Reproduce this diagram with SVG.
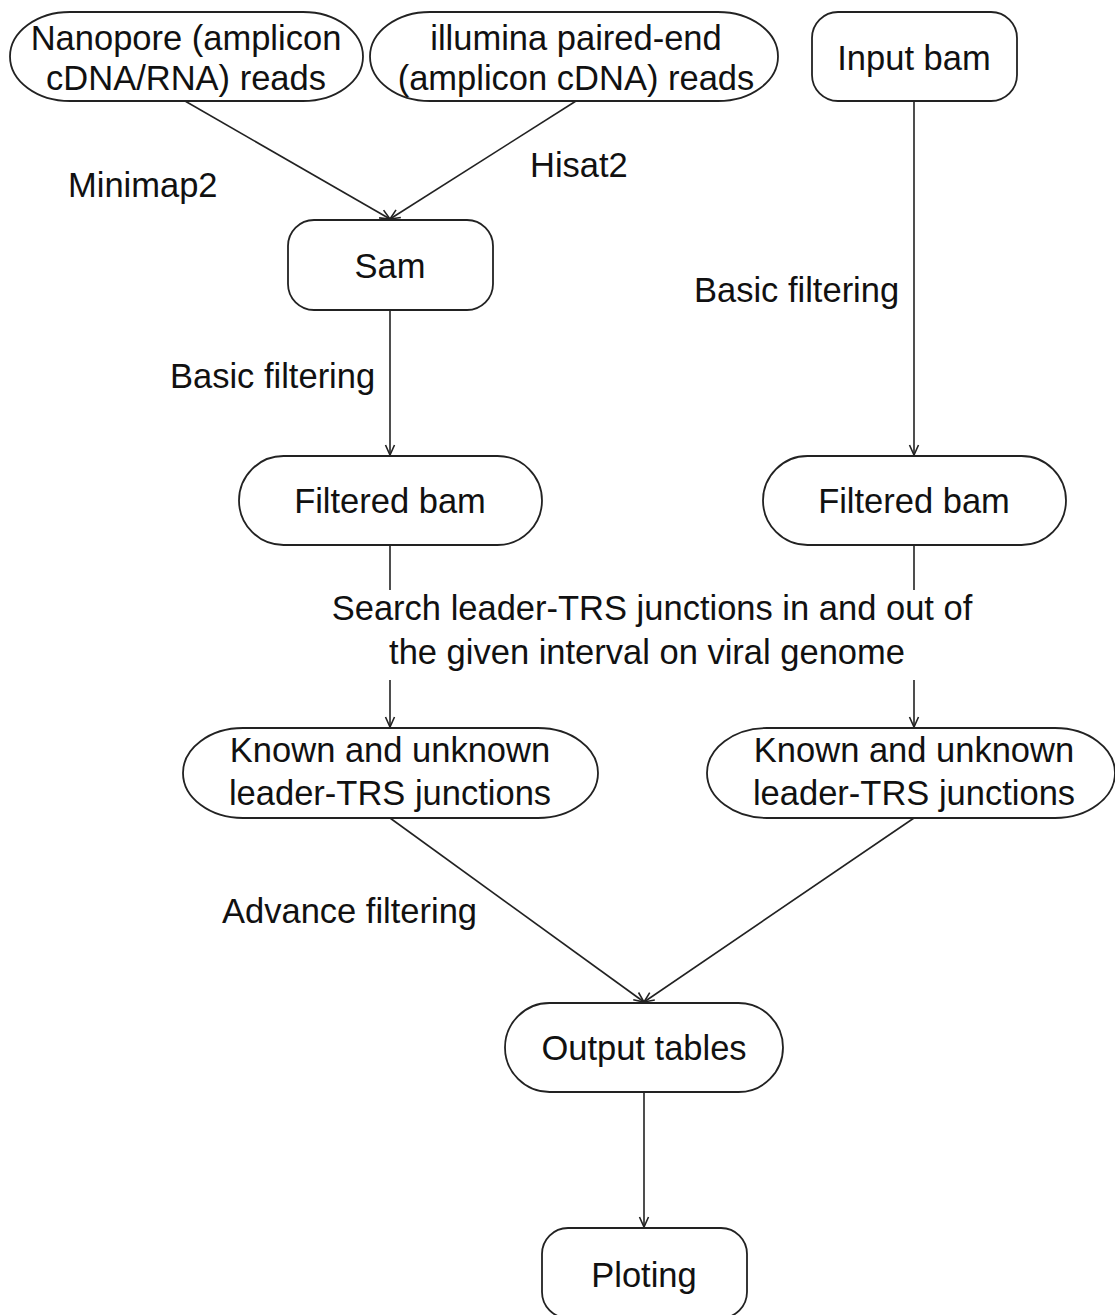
<svg xmlns="http://www.w3.org/2000/svg" width="1115" height="1315" viewBox="0 0 1115 1315">
<defs>
<marker id="arr" viewBox="0 0 12 12" refX="11" refY="6" markerWidth="12" markerHeight="12" markerUnits="userSpaceOnUse" orient="auto">
<path d="M1,1.5 L11,6 L1,10.5" fill="none" stroke="#222" stroke-width="1.6"/>
</marker>
</defs>
<style>
.n{fill:#fff;stroke:#222;stroke-width:1.8}
.t{font-family:"Liberation Sans",Arial,sans-serif;font-size:34.5px;fill:#111;text-anchor:middle}
.l{font-family:"Liberation Sans",Arial,sans-serif;font-size:34.5px;fill:#111}
.c{fill:none;stroke:#222;stroke-width:1.6}
</style>
<rect width="1115" height="1315" fill="#fff"/>
<g id="connectors">
<line class="c" x1="185" y1="101" x2="390" y2="219" marker-end="url(#arr)"/>
<line class="c" x1="576" y1="101" x2="390" y2="219" marker-end="url(#arr)"/>
<line class="c" x1="914" y1="101" x2="914" y2="455" marker-end="url(#arr)"/>
<line class="c" x1="390" y1="310" x2="390" y2="455" marker-end="url(#arr)"/>
<line class="c" x1="390" y1="545" x2="390" y2="590"/>
<line class="c" x1="390" y1="680" x2="390" y2="727" marker-end="url(#arr)"/>
<line class="c" x1="914" y1="545" x2="914" y2="590"/>
<line class="c" x1="914" y1="680" x2="914" y2="727" marker-end="url(#arr)"/>
<line class="c" x1="390" y1="818" x2="644" y2="1002" marker-end="url(#arr)"/>
<line class="c" x1="914" y1="818" x2="644" y2="1002" marker-end="url(#arr)"/>
<line class="c" x1="644" y1="1092" x2="644" y2="1227" marker-end="url(#arr)"/>
</g>
<g id="labels">
<text class="l" x="68" y="197">Minimap2</text>
<text class="l" x="530" y="177">Hisat2</text>
<text class="l" x="694" y="302">Basic filtering</text>
<text class="l" x="170" y="388">Basic filtering</text>
<text class="t" x="652" y="620">Search leader-TRS junctions in and out of</text>
<text class="t" x="647" y="664">the given interval on viral genome</text>
<text class="l" x="222" y="923">Advance filtering</text>
</g>
<g id="nanopore">
<rect class="n" x="10" y="12" width="353" height="89" rx="60" ry="44.5"/>
<text class="t" x="186" y="50">Nanopore (amplicon</text>
<text class="t" x="186" y="90">cDNA/RNA) reads</text>
</g>
<g id="illumina">
<rect class="n" x="370" y="12" width="408" height="89" rx="60" ry="44.5"/>
<text class="t" x="576" y="50">illumina paired-end</text>
<text class="t" x="576" y="90">(amplicon cDNA) reads</text>
</g>
<g id="inputbam">
<rect class="n" x="812" y="12" width="205" height="89" rx="26" ry="26"/>
<text class="t" x="914" y="70">Input bam</text>
</g>
<g id="sam">
<rect class="n" x="288" y="220" width="205" height="90" rx="26" ry="26"/>
<text class="t" x="390" y="278">Sam</text>
</g>
<g id="filtered-left">
<rect class="n" x="239" y="456" width="303" height="89" rx="44.5" ry="44.5"/>
<text class="t" x="390" y="513">Filtered bam</text>
</g>
<g id="filtered-right">
<rect class="n" x="763" y="456" width="303" height="89" rx="44.5" ry="44.5"/>
<text class="t" x="914" y="513">Filtered bam</text>
</g>
<g id="known-left">
<rect class="n" x="183" y="728" width="415" height="90" rx="60" ry="45"/>
<text class="t" x="390" y="762">Known and unknown</text>
<text class="t" x="390" y="805">leader-TRS junctions</text>
</g>
<g id="known-right">
<rect class="n" x="707" y="728" width="408" height="90" rx="60" ry="45"/>
<text class="t" x="914" y="762">Known and unknown</text>
<text class="t" x="914" y="805">leader-TRS junctions</text>
</g>
<g id="output">
<rect class="n" x="505" y="1003" width="278" height="89" rx="44.5" ry="44.5"/>
<text class="t" x="644" y="1060">Output tables</text>
</g>
<g id="ploting">
<rect class="n" x="542" y="1228" width="205" height="90" rx="26" ry="26"/>
<text class="t" x="644" y="1287">Ploting</text>
</g>
</svg>
